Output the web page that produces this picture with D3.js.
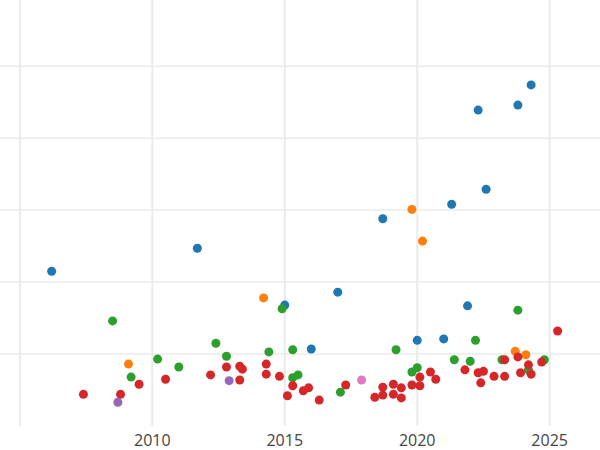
<!DOCTYPE html>
<html><head><meta charset="utf-8">
<script src="https://cdn.jsdelivr.net/npm/d3@7"></script>
<style>body{margin:0;background:#fff}</style>
</head><body><div id="chart"></div>
<script>
const blueYears = [2006.2,2011.7,2015.0,2016.0,2017.0,2018.7,2020.0,2021.0,2021.3,2021.9,2022.3,2022.6,2023.8,2024.3]
const blueVals = [2.15,2.47,1.68,1.07,1.86,2.88,1.19,1.21,3.08,1.67,4.39,3.29,4.46,4.74]
const orangeYears = [2009.1,2014.2,2019.8,2020.2,2023.7,2024.1]
const orangeVals = [0.86,1.78,3.01,2.57,1.04,0.99]
const greenYears = [2008.5,2009.2,2010.2,2011.0,2012.4,2012.8,2014.4,2014.9,2015.3,2015.3,2015.5,2017.1,2019.2,2019.8,2020.0,2021.4,2022.0,2022.2,2023.2,2023.8,2024.2,2024.8]
const greenVals = [1.46,0.68,0.93,0.82,1.15,0.97,1.03,1.63,0.67,1.06,0.71,0.47,1.06,0.75,0.81,0.92,0.90,1.19,0.92,1.61,0.78,0.92]
const redYears = [2007.4,2008.8,2009.5,2010.5,2012.2,2012.8,2013.3,2013.4,2013.3,2014.3,2014.3,2014.8,2015.1,2015.3,2015.7,2015.9,2016.3,2017.3,2018.4,2018.7,2018.7,2019.1,2019.1,2019.4,2019.4,2019.8,2020.1,2020.1,2020.5,2020.7,2021.8,2022.3,2022.5,2022.4,2022.9,2023.3,2023.3,2023.8,2023.9,2024.2,2024.3,2024.7,2025.3]
const redVals = [0.44,0.44,0.58,0.65,0.71,0.82,0.83,0.79,0.64,0.86,0.72,0.69,0.42,0.56,0.49,0.53,0.36,0.57,0.40,0.54,0.43,0.44,0.58,0.53,0.39,0.57,0.68,0.56,0.75,0.65,0.78,0.74,0.76,0.60,0.69,0.69,0.92,0.96,0.74,0.85,0.72,0.89,1.32]
const purpleYears = [2008.7,2012.9]
const purpleVals = [0.33,0.63]
const pinkYears = [2017.9]
const pinkVals = [0.64]
const xTicks = [2005,2010,2015,2020,2025]
const yGrid = [1,2,3,4,5]

const series = [
  {color:"#1f77b4", xs:blueYears, ys:blueVals},
  {color:"#ff7f0e", xs:orangeYears, ys:orangeVals},
  {color:"#2ca02c", xs:greenYears, ys:greenVals},
  {color:"#d62728", xs:redYears, ys:redVals},
  {color:"#9467bd", xs:purpleYears, ys:purpleVals},
  {color:"#e377c2", xs:pinkYears, ys:pinkVals}
]

const W = 600, H = 450
const x = d3.scaleLinear().domain([2004.25, 2026.9]).range([0, W])
const y = d3.scaleLinear().domain([0, 5.92]).range([426, 0])

const svg = d3.select("#chart").append("svg").attr("width", W).attr("height", H)

svg.append("g").selectAll("line").data(xTicks).enter().append("line")
  .attr("x1", d => x(d)).attr("x2", d => x(d)).attr("y1", 0).attr("y2", 426)
  .attr("stroke", "#ebebeb").attr("stroke-width", 2)
svg.append("g").selectAll("line").data(yGrid).enter().append("line")
  .attr("x1", 0).attr("x2", W).attr("y1", d => y(d)).attr("y2", d => y(d))
  .attr("stroke", "#ebebeb").attr("stroke-width", 1.5)

svg.append("g").selectAll("text").data(xTicks.filter(d => d > 2005)).enter().append("text")
  .attr("x", d => x(d)).attr("y", 446).attr("text-anchor", "middle")
  .attr("font-family", "Open Sans, sans-serif").attr("font-size", 16).attr("fill", "#444")
  .text(d => d)

series.forEach(s => {
  svg.append("g").selectAll("circle").data(s.xs.map((v, i) => [v, s.ys[i]])).enter().append("circle")
    .attr("cx", d => x(d[0])).attr("cy", d => y(d[1])).attr("r", 4.5)
    .attr("fill", s.color)
})
</script>
</body></html>
